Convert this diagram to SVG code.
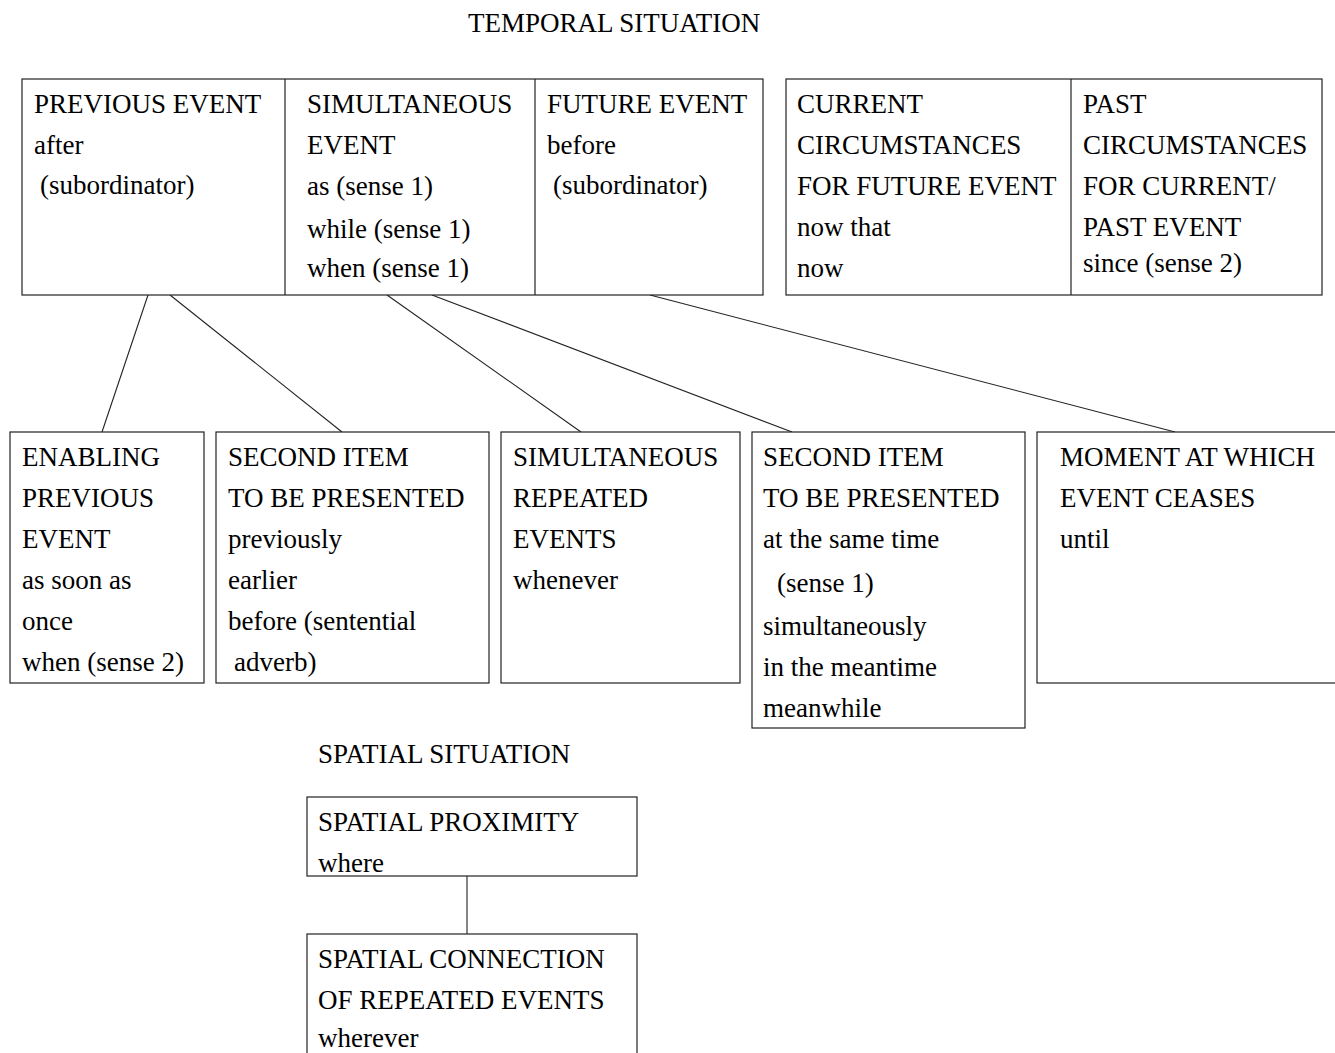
<svg xmlns="http://www.w3.org/2000/svg" width="1335" height="1053" viewBox="0 0 1335 1053">
  <style>
    text { font-family: "Liberation Serif", "Times New Roman", serif; font-size: 27px; fill: #000; }
    .box { fill: #fff; stroke: #222; stroke-width: 1.2; }
    .div { stroke: #222; stroke-width: 1.2; }
    .link { stroke: #222; stroke-width: 1.1; fill: none; }
  </style>
  <rect width="1335" height="1053" fill="#fff"/>

  <text x="468" y="32">TEMPORAL SITUATION</text>

  <!-- connectors -->
  <g id="connectors">
    <line class="link" x1="148" y1="295" x2="102" y2="432"/>
    <line class="link" x1="170" y1="295" x2="342" y2="432"/>
    <line class="link" x1="387" y1="295" x2="581" y2="432"/>
    <line class="link" x1="432" y1="295" x2="792" y2="432"/>
    <line class="link" x1="650" y1="295" x2="1175" y2="432"/>
    <line class="link" x1="467" y1="876" x2="467" y2="934"/>
  </g>

  <!-- top row: three event cells in one frame -->
  <g id="event-frame">
    <rect class="box" x="22" y="79" width="741" height="216"/>
    <line class="div" x1="285" y1="79" x2="285" y2="295"/>
    <line class="div" x1="535" y1="79" x2="535" y2="295"/>
  </g>
  <g id="previous-event">
    <text x="34" y="113">PREVIOUS EVENT</text>
    <text x="34" y="154">after</text>
    <text x="40" y="194">(subordinator)</text>
  </g>
  <g id="simultaneous-event">
    <text x="307" y="113">SIMULTANEOUS</text>
    <text x="307" y="154">EVENT</text>
    <text x="307" y="195">as (sense 1)</text>
    <text x="307" y="238">while (sense 1)</text>
    <text x="307" y="277">when (sense 1)</text>
  </g>
  <g id="future-event">
    <text x="547" y="113">FUTURE EVENT</text>
    <text x="547" y="154">before</text>
    <text x="553" y="194">(subordinator)</text>
  </g>

  <!-- top row: circumstances frame -->
  <g id="circumstances-frame">
    <rect class="box" x="786" y="79" width="536" height="216"/>
    <line class="div" x1="1071" y1="79" x2="1071" y2="295"/>
  </g>
  <g id="current-circumstances">
    <text x="797" y="113">CURRENT</text>
    <text x="797" y="154">CIRCUMSTANCES</text>
    <text x="797" y="195">FOR FUTURE EVENT</text>
    <text x="797" y="236">now that</text>
    <text x="797" y="277">now</text>
  </g>
  <g id="past-circumstances">
    <text x="1083" y="113">PAST</text>
    <text x="1083" y="154">CIRCUMSTANCES</text>
    <text x="1083" y="195">FOR CURRENT/</text>
    <text x="1083" y="236">PAST EVENT</text>
    <text x="1083" y="272">since (sense 2)</text>
  </g>

  <!-- second row -->
  <g id="enabling-previous-event">
    <rect class="box" x="10" y="432" width="194" height="251"/>
    <text x="22" y="466">ENABLING</text>
    <text x="22" y="507">PREVIOUS</text>
    <text x="22" y="548">EVENT</text>
    <text x="22" y="589">as soon as</text>
    <text x="22" y="630">once</text>
    <text x="22" y="671">when (sense 2)</text>
  </g>
  <g id="second-item-previously">
    <rect class="box" x="216" y="432" width="273" height="251"/>
    <text x="228" y="466">SECOND ITEM</text>
    <text x="228" y="507">TO BE PRESENTED</text>
    <text x="228" y="548">previously</text>
    <text x="228" y="589">earlier</text>
    <text x="228" y="630">before (sentential</text>
    <text x="234" y="671">adverb)</text>
  </g>
  <g id="simultaneous-repeated-events">
    <rect class="box" x="501" y="432" width="239" height="251"/>
    <text x="513" y="466">SIMULTANEOUS</text>
    <text x="513" y="507">REPEATED</text>
    <text x="513" y="548">EVENTS</text>
    <text x="513" y="589">whenever</text>
  </g>
  <g id="second-item-same-time">
    <rect class="box" x="752" y="432" width="273" height="296"/>
    <text x="763" y="466">SECOND ITEM</text>
    <text x="763" y="507">TO BE PRESENTED</text>
    <text x="763" y="548">at the same time</text>
    <text x="777" y="592">(sense 1)</text>
    <text x="763" y="635">simultaneously</text>
    <text x="763" y="676">in the meantime</text>
    <text x="763" y="717">meanwhile</text>
  </g>
  <g id="event-ceases">
    <rect class="box" x="1037" y="432" width="310" height="251"/>
    <text x="1060" y="466">MOMENT AT WHICH</text>
    <text x="1060" y="507">EVENT CEASES</text>
    <text x="1060" y="548">until</text>
  </g>

  <!-- spatial section -->
  <text x="318" y="763">SPATIAL SITUATION</text>
  <g id="spatial-proximity">
    <rect class="box" x="307" y="797" width="330" height="79"/>
    <text x="318" y="831">SPATIAL PROXIMITY</text>
    <text x="318" y="872">where</text>
  </g>
  <g id="spatial-connection">
    <rect class="box" x="307" y="934" width="330" height="140"/>
    <text x="318" y="968">SPATIAL CONNECTION</text>
    <text x="318" y="1009">OF REPEATED EVENTS</text>
    <text x="318" y="1047">wherever</text>
  </g>
</svg>
